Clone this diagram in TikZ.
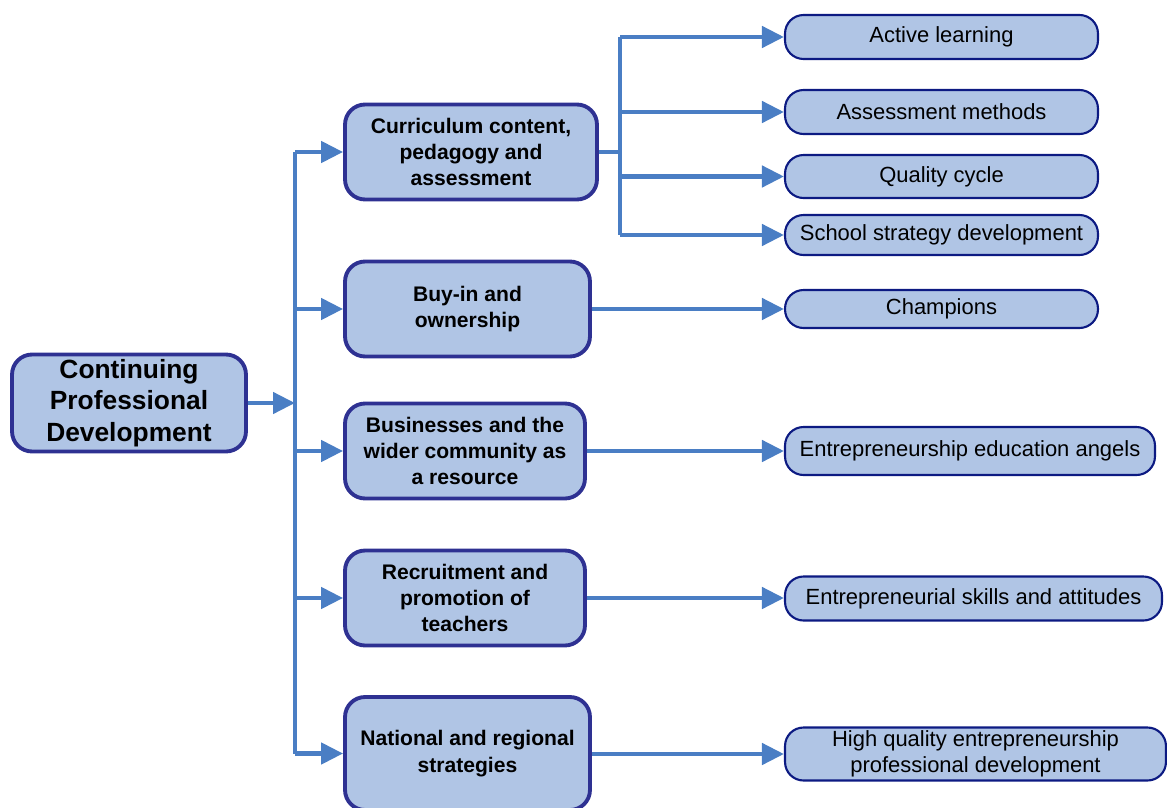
\documentclass[tikz,border=0pt]{standalone}
\usepackage{fontspec}
\setmainfont{Liberation Sans}
\usetikzlibrary{arrows.meta}
\definecolor{linkblue}{HTML}{4A7EC4}
\definecolor{boxfill}{HTML}{B0C5E5}
\definecolor{boxline}{HTML}{2E3192}
\definecolor{leafline}{HTML}{0C1A82}
\begin{document}
\begin{tikzpicture}[x=0.02cm,y=-0.02cm,
    topic/.style={draw=boxline,fill=boxfill,line width=2.2pt,rounded corners=0.4cm,align=center,
      inner sep=0pt,font=\bfseries\fontsize{12}{15}\selectfont},
    leaf/.style={draw=leafline,fill=boxfill,line width=1.2pt,rounded corners=0.37cm,align=center,
      inner sep=0pt,minimum height=0.88cm,font=\fontsize{12.5}{14.7}\selectfont},
    link/.style={draw=linkblue,line width=2.6pt,-{Triangle[length=0.44cm,width=0.42cm]}},
    stem/.style={draw=linkblue,line width=2.6pt}]
  \useasboundingbox (0,0) rectangle (1167,808);
  \node[topic,minimum width=4.68cm,minimum height=1.94cm,font=\bfseries\fontsize{15}{18}\selectfont] (cpd) at (129,403) {Continuing\\Professional\\Development};
  \node[topic,minimum width=5.04cm,minimum height=1.9cm] (cur) at (471,152) {Curriculum content,\\pedagogy and\\assessment};
  \node[topic,minimum width=4.9cm,minimum height=1.9cm] (buy) at (467.5,309) {Buy-in and\\ownership};
  \node[topic,minimum width=4.8cm,minimum height=1.9cm] (bus) at (465,451) {Businesses and the\\wider community as\\a resource};
  \node[topic,minimum width=4.8cm,minimum height=1.9cm] (rec) at (465,598) {Recruitment and\\promotion of\\teachers};
  \node[topic,minimum width=4.9cm,minimum height=2.26cm] (nat) at (467.5,753.5) {National and regional\\strategies};
  \node[leaf,minimum width=6.26cm] (act) at (941.5,37) {Active learning};
  \node[leaf,minimum width=6.26cm] (ass) at (941.5,112) {Assessment methods};
  \node[leaf,minimum width=6.26cm,minimum height=0.86cm] (qua) at (941.5,176.5) {Quality cycle};
  \node[leaf,minimum width=6.26cm,minimum height=0.8cm] (sch) at (941.5,235) {School strategy development};
  \node[leaf,minimum width=6.26cm,minimum height=0.76cm] (cha) at (941.5,309) {Champions};
  \node[leaf,minimum width=7.4cm,minimum height=0.96cm] (ang) at (970,451) {Entrepreneurship education angels};
  \node[leaf,minimum width=7.54cm] (ski) at (973.5,598.5) {Entrepreneurial skills and attitudes};
  \node[leaf,minimum width=7.62cm,minimum height=1.06cm] (hig) at (975.5,754) {High quality entrepreneurship\\professional development};
  \coordinate (spine) at (295,0);
  \coordinate (fork) at (620,0);
  \draw[stem] (spine |- cur) -- (spine |- nat);
  \draw[link] (cpd.east) -- (spine |- cpd);
  \foreach \t in {cur,buy,bus,rec,nat}
    \draw[link] (spine |- \t) -- (\t.west);
  \draw[stem] (cur.east) -- (fork |- cur);
  \draw[stem] (fork |- act) -- (fork |- sch);
  \foreach \t in {act,ass,qua,sch}
    \draw[link] (fork |- \t) -- (\t.west);
  \draw[link] (buy.east) -- (buy -| cha.west);
  \draw[link] (bus.east) -- (bus -| ang.west);
  \draw[link] (rec.east) -- (rec -| ski.west);
  \draw[link] (nat.east |- hig) -- (hig.west);
\end{tikzpicture}
\end{document}
